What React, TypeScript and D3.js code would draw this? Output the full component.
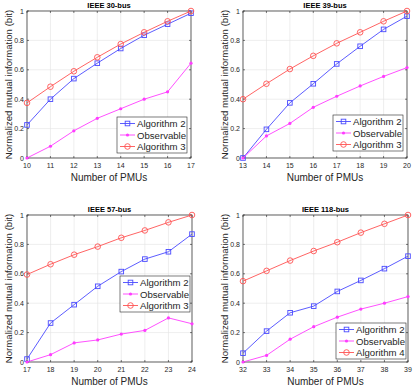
import React, { useEffect, useRef } from 'react';
import * as d3 from 'd3';

// values
const pmu30 = [10, 11, 12, 13, 14, 15, 16, 17];
const alg2_30 = [0.225, 0.4, 0.54, 0.645, 0.745, 0.835, 0.91, 0.985];
const obs_30 = [0, 0.08, 0.185, 0.27, 0.335, 0.4, 0.45, 0.645];
const alg3_30 = [0.375, 0.485, 0.59, 0.685, 0.775, 0.855, 0.93, 1.0];

const pmu39 = [13, 14, 15, 16, 17, 18, 19, 20];
const alg2_39 = [0, 0.195, 0.375, 0.505, 0.64, 0.76, 0.875, 0.965];
const obs_39 = [0, 0.15, 0.235, 0.345, 0.42, 0.49, 0.555, 0.615];
const alg3_39 = [0.4, 0.505, 0.605, 0.695, 0.78, 0.855, 0.93, 1.0];

const pmu57 = [17, 18, 19, 20, 21, 22, 23, 24];
const alg2_57 = [0.02, 0.265, 0.39, 0.515, 0.615, 0.7, 0.75, 0.87];
const obs_57 = [0, 0.05, 0.13, 0.15, 0.19, 0.215, 0.3, 0.26];
const alg3_57 = [0.595, 0.665, 0.73, 0.785, 0.845, 0.895, 0.95, 1.0];

const pmu118 = [32, 33, 34, 35, 36, 37, 38, 39];
const alg2_118 = [0.06, 0.21, 0.335, 0.38, 0.48, 0.555, 0.635, 0.72];
const obs_118 = [0, 0.045, 0.155, 0.24, 0.305, 0.36, 0.4, 0.445];
const alg4_118 = [0.55, 0.62, 0.69, 0.755, 0.815, 0.88, 0.94, 1.0];

const yTicks = [0, 0.2, 0.4, 0.6, 0.8, 1];
const yTickLabels = ['0', '0.2', '0.4', '0.6', '0.8', '1'];

const titles = ['IEEE 30-bus', 'IEEE 39-bus', 'IEEE 57-bus', 'IEEE 118-bus'];
const pmus = [pmu30, pmu39, pmu57, pmu118];
const seriesNames = [
    ['Algorithm 2', 'Observable', 'Algorithm 3'],
    ['Algorithm 2', 'Observable', 'Algorithm 3'],
    ['Algorithm 2', 'Observable', 'Algorithm 3'],
    ['Algorithm 2', 'Observable', 'Algorithm 4'],
];
const seriesValues = [
    [alg2_30, obs_30, alg3_30],
    [alg2_39, obs_39, alg3_39],
    [alg2_57, obs_57, alg3_57],
    [alg2_118, obs_118, alg4_118],
];

// layout (pixel frame of each axes and its legend)
const frames = [
    { l: 27, t: 11, r: 191, b: 158, lx: 117, ly: 117 },
    { l: 243, t: 11, r: 407, b: 158, lx: 333, ly: 115 },
    { l: 27, t: 215, r: 192, b: 362, lx: 120, ly: 276 },
    { l: 243, t: 215, r: 408, b: 362, lx: 336, ly: 323 },
];
const colors = ['#4a4aff', '#ff3cff', '#ff5252'];
const markers = ['square', 'star', 'circle'];
const axisColor = '#262626';
const font = 'Liberation Sans, Arial, Helvetica, sans-serif';

function drawMarker(g, kind, cx, cy, color) {
    if (kind === 'square') {
        g.append('rect')
            .attr('x', cx - 2.3)
            .attr('y', cy - 2.3)
            .attr('width', 4.6)
            .attr('height', 4.6)
            .attr('fill', 'none')
            .attr('stroke', color)
            .attr('stroke-width', 0.9);
    } else if (kind === 'circle') {
        g.append('circle')
            .attr('cx', cx)
            .attr('cy', cy)
            .attr('r', 2.8)
            .attr('fill', 'none')
            .attr('stroke', color)
            .attr('stroke-width', 0.9);
    } else {
        g.append('circle').attr('cx', cx).attr('cy', cy).attr('r', 1.6).attr('fill', color);
    }
}

export default function App() {
    const svgRef = useRef(null);

    useEffect(() => {
        const svg = d3.select(svgRef.current);
        svg.selectAll('*').remove();
        svg.append('rect').attr('width', 415).attr('height', 387).attr('fill', '#fff');

        frames.forEach((f, pi) => {
            const xs = pmus[pi];
            const x = d3.scaleLinear().domain([xs[0], xs[xs.length - 1]]).range([f.l, f.r]);
            const y = d3.scaleLinear().domain([0, 1]).range([f.b, f.t]);
            const g = svg.append('g');

            // grid
            g.selectAll('.gx')
                .data(xs)
                .enter()
                .append('line')
                .attr('x1', (d) => x(d))
                .attr('x2', (d) => x(d))
                .attr('y1', f.t)
                .attr('y2', f.b)
                .attr('stroke', '#e3e3e3')
                .attr('stroke-width', 0.6);
            g.selectAll('.gy')
                .data(yTicks)
                .enter()
                .append('line')
                .attr('x1', f.l)
                .attr('x2', f.r)
                .attr('y1', (d) => y(d))
                .attr('y2', (d) => y(d))
                .attr('stroke', '#e3e3e3')
                .attr('stroke-width', 0.6);

            // ticks (inward, mirrored)
            xs.forEach((d) => {
                g.append('line').attr('x1', x(d)).attr('x2', x(d)).attr('y1', f.b).attr('y2', f.b - 2).attr('stroke', axisColor).attr('stroke-width', 0.6);
                g.append('line').attr('x1', x(d)).attr('x2', x(d)).attr('y1', f.t).attr('y2', f.t + 2).attr('stroke', axisColor).attr('stroke-width', 0.6);
            });
            yTicks.forEach((d) => {
                g.append('line').attr('x1', f.l).attr('x2', f.l + 2).attr('y1', y(d)).attr('y2', y(d)).attr('stroke', axisColor).attr('stroke-width', 0.6);
                g.append('line').attr('x1', f.r).attr('x2', f.r - 2).attr('y1', y(d)).attr('y2', y(d)).attr('stroke', axisColor).attr('stroke-width', 0.6);
            });

            // tick labels
            g.selectAll('.xl')
                .data(xs)
                .enter()
                .append('text')
                .attr('x', (d) => x(d))
                .attr('y', f.b + 10)
                .attr('text-anchor', 'middle')
                .attr('font-size', 7)
                .attr('font-family', font)
                .attr('fill', axisColor)
                .text((d) => d);
            g.selectAll('.yl')
                .data(yTicks)
                .enter()
                .append('text')
                .attr('x', f.l - 3)
                .attr('y', (d) => y(d) + 2.5)
                .attr('text-anchor', 'end')
                .attr('font-size', 7)
                .attr('font-family', font)
                .attr('fill', axisColor)
                .text((d, i) => yTickLabels[i]);

            // box
            g.append('rect')
                .attr('x', f.l)
                .attr('y', f.t)
                .attr('width', f.r - f.l)
                .attr('height', f.b - f.t)
                .attr('fill', 'none')
                .attr('stroke', axisColor)
                .attr('stroke-width', 0.7);

            // title and axis labels
            g.append('text')
                .attr('x', (f.l + f.r) / 2)
                .attr('y', f.t - 3)
                .attr('text-anchor', 'middle')
                .attr('font-size', 7.5)
                .attr('font-weight', 'bold')
                .attr('font-family', font)
                .attr('fill', '#000')
                .text(titles[pi]);
            g.append('text')
                .attr('x', (f.l + f.r) / 2)
                .attr('y', f.b + 23)
                .attr('text-anchor', 'middle')
                .attr('font-size', 10)
                .attr('font-family', font)
                .attr('fill', axisColor)
                .text('Number of PMUs');
            g.append('text')
                .attr('transform', 'translate(' + (f.l - 15) + ',' + (f.t + f.b) / 2 + ') rotate(-90)')
                .attr('text-anchor', 'middle')
                .attr('font-size', 9.6)
                .attr('font-family', font)
                .attr('fill', axisColor)
                .text('Normalized mutual information (bit)');

            // series
            const line = d3
                .line()
                .x((d, i) => x(xs[i]))
                .y((d) => y(d));
            seriesValues[pi].forEach((vals, si) => {
                g.append('path')
                    .attr('d', line(vals))
                    .attr('fill', 'none')
                    .attr('stroke', colors[si])
                    .attr('stroke-width', 0.9);
                vals.forEach((v, i) => drawMarker(g, markers[si], x(xs[i]), y(v), colors[si]));
            });

            // legend
            const lw = 70;
            const lh = 36;
            const lg = g.append('g');
            lg.append('rect')
                .attr('x', f.lx)
                .attr('y', f.ly)
                .attr('width', lw)
                .attr('height', lh)
                .attr('fill', '#fff')
                .attr('stroke', axisColor)
                .attr('stroke-width', 0.6);
            seriesNames[pi].forEach((name, si) => {
                const cy = f.ly + 6.5 + si * 11.5;
                lg.append('line')
                    .attr('x1', f.lx + 3)
                    .attr('x2', f.lx + 18)
                    .attr('y1', cy)
                    .attr('y2', cy)
                    .attr('stroke', colors[si])
                    .attr('stroke-width', 0.9);
                drawMarker(lg, markers[si], f.lx + 10.5, cy, colors[si]);
                lg.append('text')
                    .attr('x', f.lx + 20)
                    .attr('y', cy + 3.5)
                    .attr('font-size', 9.6)
                    .attr('font-family', font)
                    .attr('fill', axisColor)
                    .text(name);
            });
        });
    }, []);

    return (
        <svg
            ref={svgRef}
            width={415}
            height={387}
            style={{ position: 'absolute', left: 0, top: 0 }}
        />
    );
}
